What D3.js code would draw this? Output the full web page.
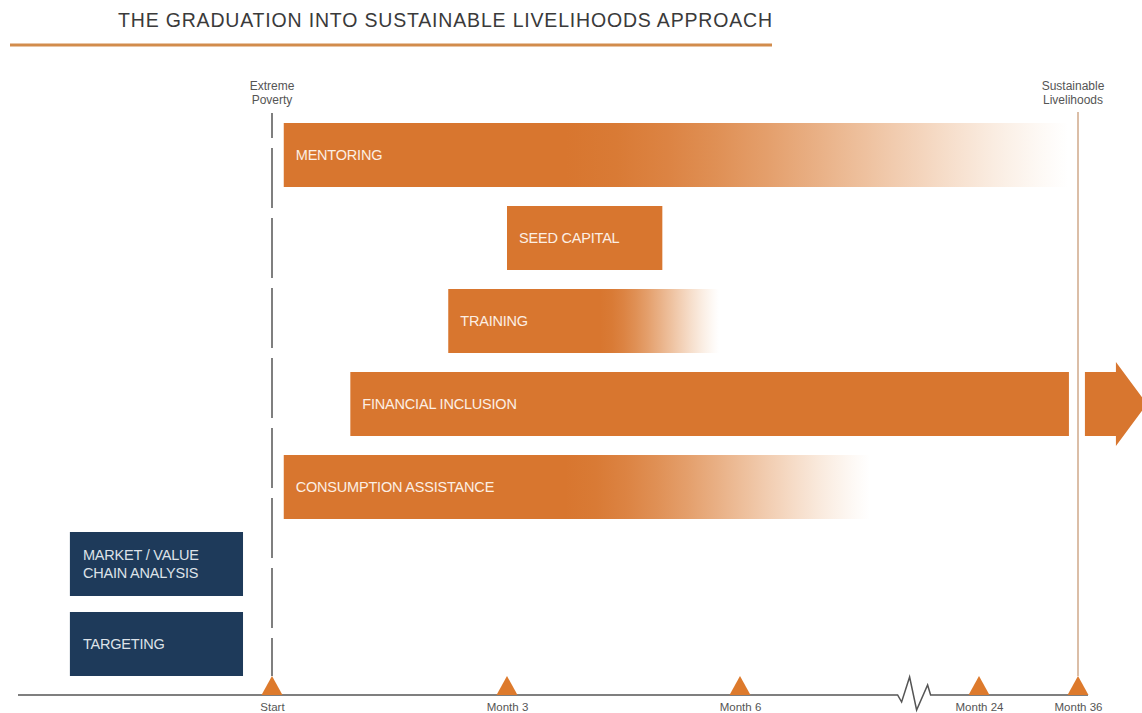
<!DOCTYPE html>
<html>
<head>
<meta charset="utf-8">
<script src="https://cdn.jsdelivr.net/npm/d3@7"></script>
<style>
  body { margin: 0; background: #fff; }
  svg { display: block; font-family: "Liberation Sans", Arial, sans-serif; }
</style>
</head>
<body>
<svg id="chart" width="1142" height="713"></svg>
<script>
// timeline (months) and its tick labels
const months = [0, 3, 6, 24, 36];
const tickLabels = ["Start", "Month 3", "Month 6", "Month 24", "Month 36"];

// graduation components, in months from start
const activities = ["MENTORING", "SEED CAPITAL", "TRAINING", "FINANCIAL INCLUSION", "CONSUMPTION ASSISTANCE"];
const activityStart = [0.15, 3, 2.25, 1, 0.15];
const activityEnd = [34.8, 5, 5.73, 34.9, 15.8];
const fadeFrom = [0.36, null, 0.56, null, 0.48];   // share of the bar before it tapers out
const continues = [false, false, false, true, false];

// preparatory steps before the start
const prepSteps = ["MARKET / VALUE|CHAIN ANALYSIS", "TARGETING"];
const prepStart = [-2.58, -2.58];
const prepEnd = [-0.37, -0.37];

const startLabel = ["Extreme", "Poverty"];
const endLabel = ["Sustainable", "Livelihoods"];

const orange = "#d8762f";
const navy = "#1e3a5a";

const svg = d3.select("#chart");

// broken time axis: piecewise scale
const x = d3.scaleLinear().domain(months).range([272, 507, 740, 979, 1078]);

const yAct = d3.scaleBand().domain(activities).range([123, 519]).paddingInner(0.229);
const yPrep = d3.scaleBand().domain(prepSteps).range([532, 676]).paddingInner(0.2);

const axisY = 695;

// title
svg.append("text")
  .attr("x", 118).attr("y", 27)
  .attr("font-size", 19.5)
  .attr("letter-spacing", 0.82)
  .attr("fill", "#3a3a3a")
  .text("THE GRADUATION INTO SUSTAINABLE LIVELIHOODS APPROACH");

svg.append("line")
  .attr("x1", 10).attr("x2", 772)
  .attr("y1", 45).attr("y2", 45)
  .attr("stroke", "#d28c4c").attr("stroke-width", 3);

// start / end markers
svg.append("line")
  .attr("x1", x(0)).attr("x2", x(0))
  .attr("y1", 113).attr("y2", 676)
  .attr("stroke", "#555").attr("stroke-width", 1.5)
  .attr("stroke-dasharray", "60,10")
  .attr("stroke-dashoffset", 35);

svg.append("line")
  .attr("x1", x(36)).attr("x2", x(36))
  .attr("y1", 112).attr("y2", 676)
  .attr("stroke", "#cfa88a").attr("stroke-width", 1.5);

function twoLines(lines, cx) {
  const t = svg.append("text")
    .attr("text-anchor", "middle")
    .attr("font-size", 12)
    .attr("fill", "#555");
  lines.forEach((s, i) => {
    t.append("tspan").attr("x", cx).attr("y", 90 + i * 14).text(s);
  });
}
twoLines(startLabel, x(0));
twoLines(endLabel, x(36) - 5);

// gradients for tapering bars
const defs = svg.append("defs");
const fadeSteps = d3.range(0, 1.0001, 0.1);
activities.forEach((a, i) => {
  if (fadeFrom[i] == null) return;
  const g = defs.append("linearGradient").attr("id", "fade" + i)
    .attr("x1", "0%").attr("x2", "100%").attr("y1", "0%").attr("y2", "0%");
  g.append("stop").attr("offset", 0).attr("stop-color", orange).attr("stop-opacity", 1);
  const tint = d3.interpolateRgb(orange, "#f0c095");
  fadeSteps.forEach(t => {
    g.append("stop")
      .attr("offset", fadeFrom[i] + (1 - fadeFrom[i]) * t)
      .attr("stop-color", tint(t * t))
      .attr("stop-opacity", 1 - Math.pow(t, 1.6));
  });
});

const bars = svg.append("g").selectAll("g")
  .data(activities)
  .enter().append("g");

bars.append("rect")
  .attr("x", (d, i) => x(activityStart[i]))
  .attr("y", d => yAct(d))
  .attr("width", (d, i) => x(activityEnd[i]) - x(activityStart[i]))
  .attr("height", yAct.bandwidth())
  .attr("fill", (d, i) => fadeFrom[i] == null ? orange : `url(#fade${i})`);

bars.append("text")
  .attr("x", (d, i) => x(activityStart[i]) + 12)
  .attr("y", d => yAct(d) + yAct.bandwidth() / 2)
  .attr("dy", "0.35em")
  .attr("font-size", 14.5)
  .attr("letter-spacing", -0.2)
  .attr("fill", "#fcefe4")
  .text(d => d);

// arrow for ongoing component
activities.forEach((a, i) => {
  if (!continues[i]) return;
  const x0 = x(activityEnd[i]) + 16;
  const y0 = yAct(a), h = yAct.bandwidth(), cy = y0 + h / 2;
  svg.append("path")
    .attr("d", `M${x0},${y0} H${x0 + 31} V${cy - 42} L${x0 + 62},${cy} L${x0 + 31},${cy + 42} V${y0 + h} H${x0} Z`)
    .attr("fill", orange);
});

// preparatory boxes
const prep = svg.append("g").selectAll("g")
  .data(prepSteps)
  .enter().append("g");

prep.append("rect")
  .attr("x", (d, i) => x(prepStart[i]))
  .attr("y", d => yPrep(d))
  .attr("width", (d, i) => x(prepEnd[i]) - x(prepStart[i]))
  .attr("height", yPrep.bandwidth())
  .attr("fill", navy);

prep.append("text")
  .attr("font-size", 14.5)
  .attr("letter-spacing", -0.2)
  .attr("fill", "#dde2e8")
  .each(function(d, i) {
    const lines = d.split("|");
    const cy = yPrep(d) + yPrep.bandwidth() / 2;
    lines.forEach((s, j) => {
      d3.select(this).append("tspan")
        .attr("x", x(prepStart[i]) + 13)
        .attr("y", cy + (j - (lines.length - 1) / 2) * 18)
        .attr("dy", "0.35em")
        .text(s);
    });
  });

// baseline with a break between month 6 and month 24
const bx = x(19);
svg.append("path")
  .attr("d", `M18,${axisY} H${bx - 15} L${bx - 11},${axisY + 7} L${bx - 3},${axisY - 18} L${bx + 4},${axisY + 15} L${bx + 15},${axisY - 10} L${bx + 18},${axisY} H${x(36) + 10}`)
  .attr("fill", "none")
  .attr("stroke", "#555")
  .attr("stroke-width", 1.5);

const axis = d3.axisBottom(x)
  .tickValues(months)
  .tickFormat((d, i) => tickLabels[i])
  .tickSize(0)
  .tickPadding(8);

const ax = svg.append("g")
  .attr("transform", `translate(0,${axisY})`)
  .call(axis);
ax.select(".domain").remove();
ax.selectAll("text")
  .attr("font-family", "Liberation Sans, Arial, sans-serif")
  .attr("font-size", 11.5)
  .attr("fill", "#555");

// milestone triangles
svg.append("g").selectAll("path")
  .data(months)
  .enter().append("path")
  .attr("d", "M-10.5,0 L0,-19 L10.5,0 Z")
  .attr("transform", d => `translate(${x(d)},${axisY})`)
  .attr("fill", "#dd7a2c");
</script>
</body>
</html>
